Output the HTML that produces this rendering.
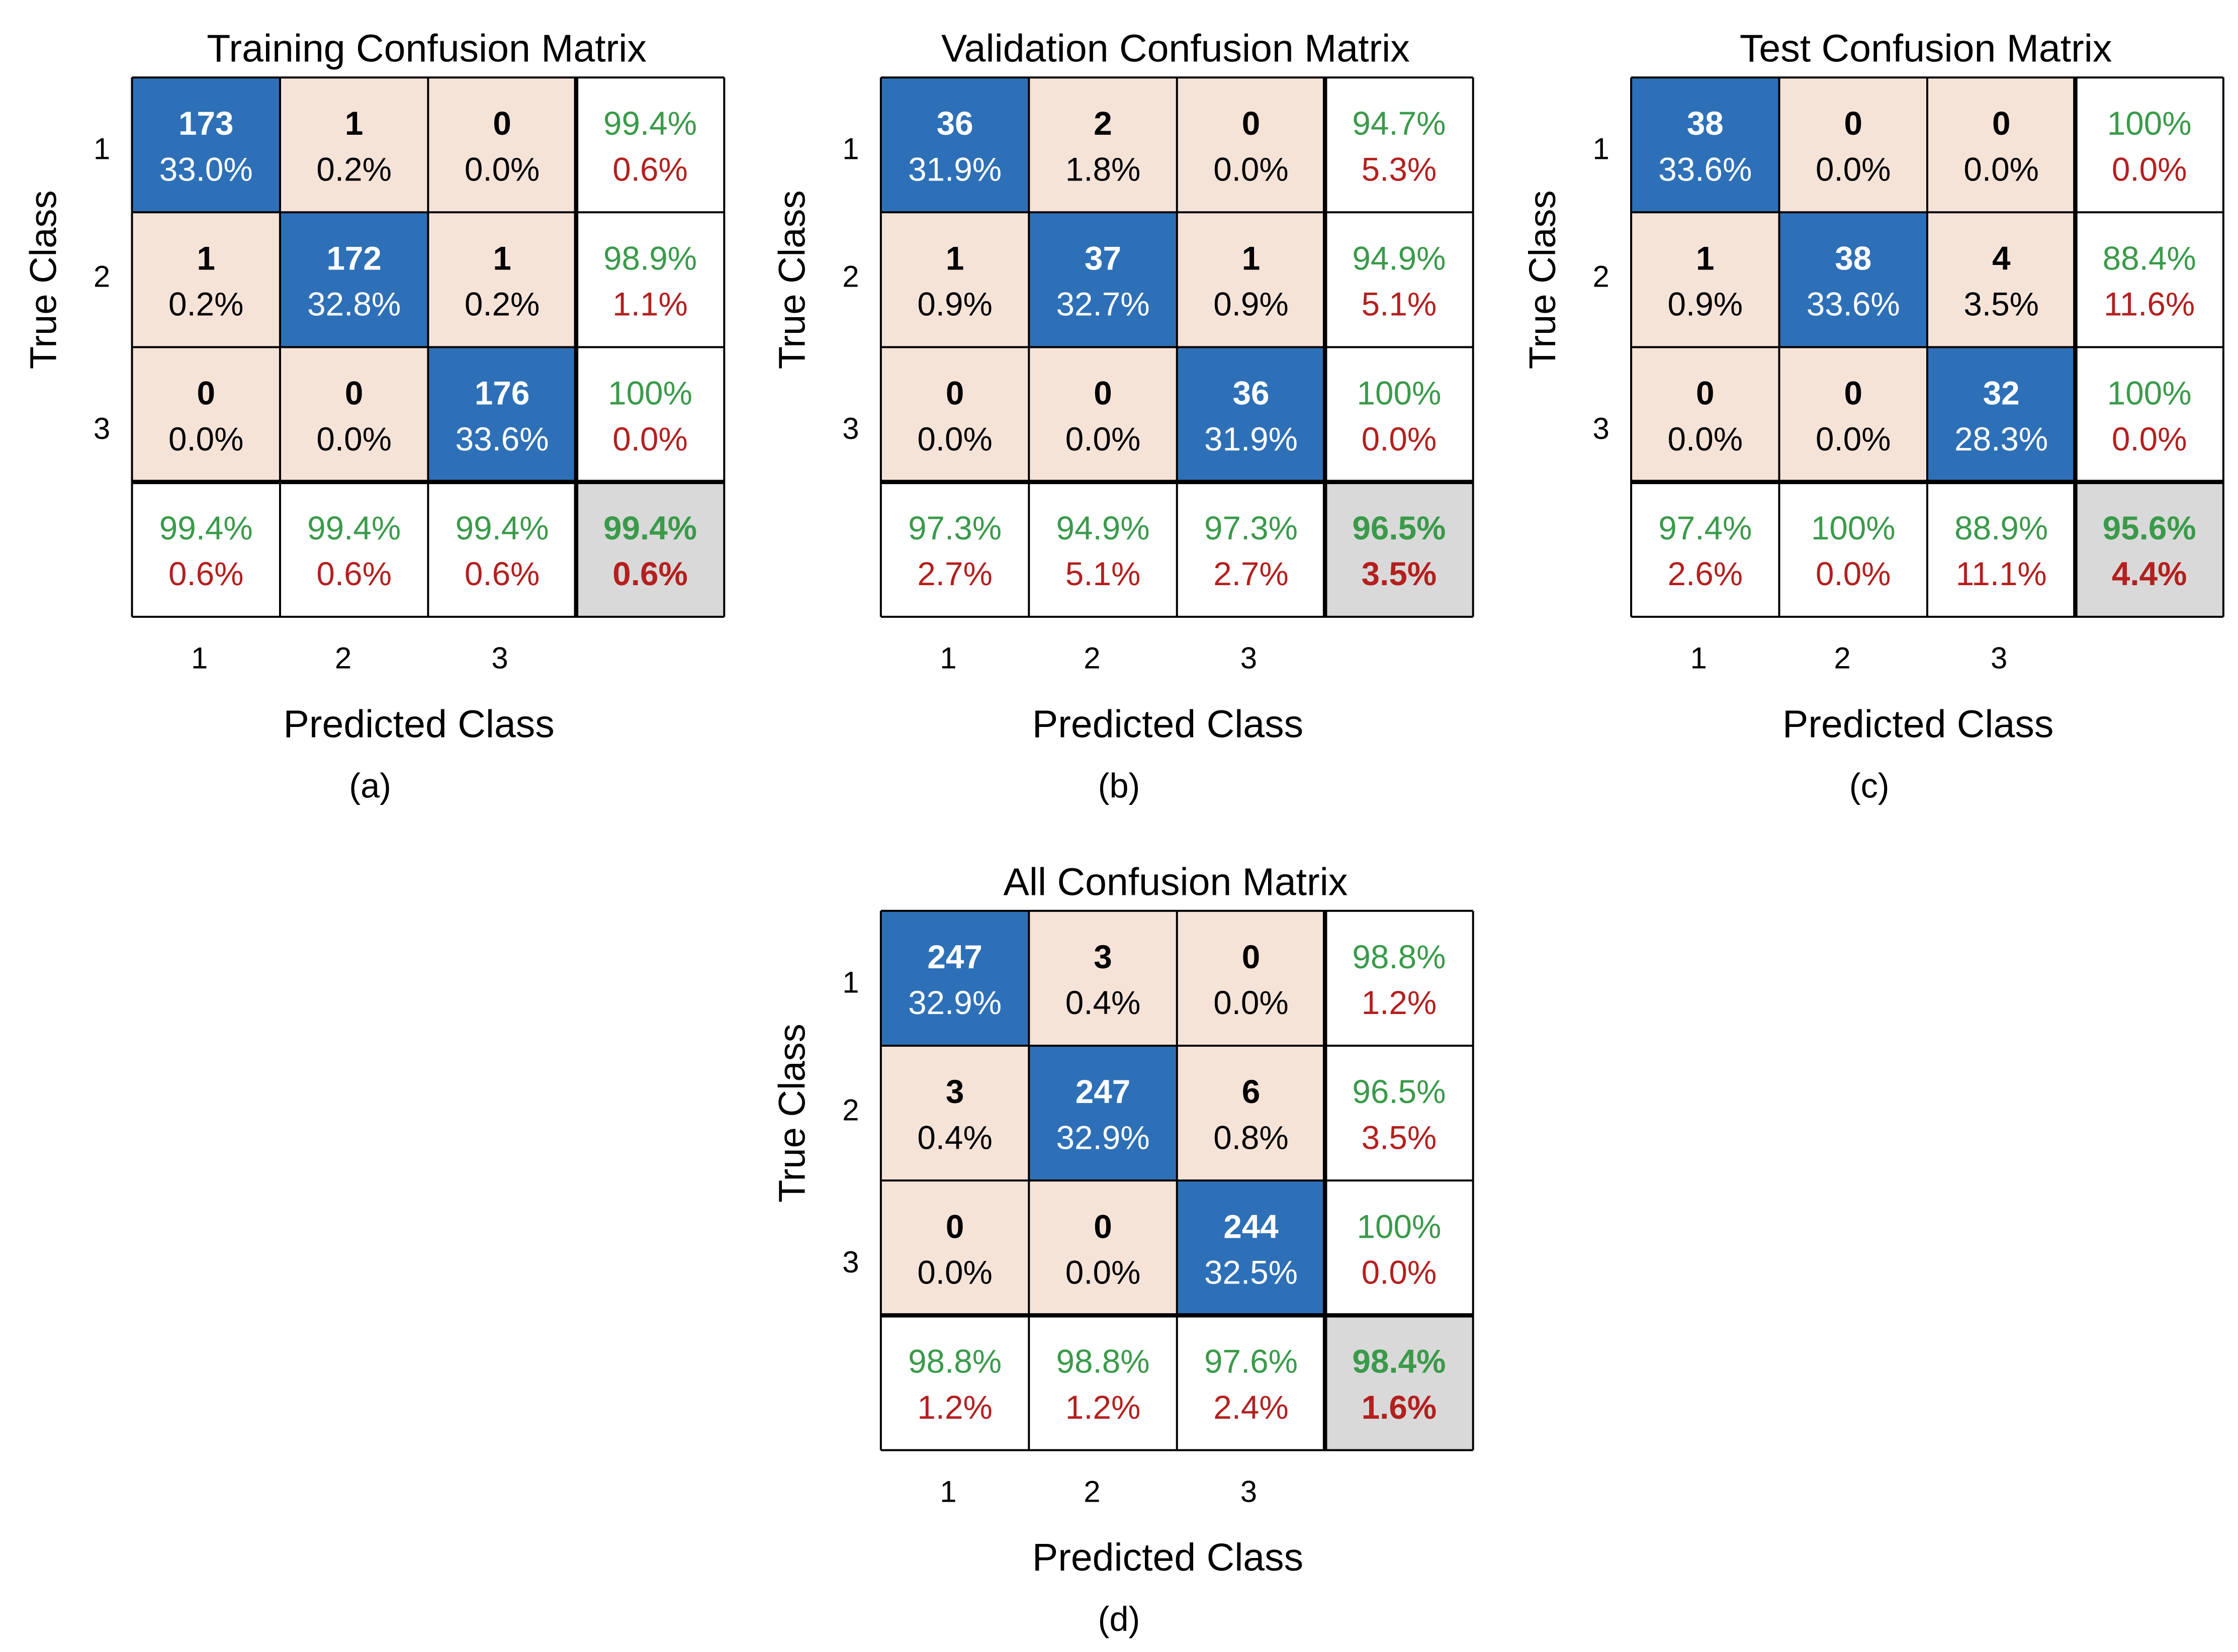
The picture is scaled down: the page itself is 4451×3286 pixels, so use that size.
<!DOCTYPE html>
<html><head><meta charset="utf-8"><style>
html,body{margin:0;padding:0;background:#fff;}
svg{display:block;}
text{font-family:"Liberation Sans",sans-serif;}
</style></head><body>
<svg id="fig" width="4451" height="3286" viewBox="0 0 1560 1151.7" xmlns="http://www.w3.org/2000/svg"></svg>
<script>
// Data arrays
const classLabels = ["1","2","3"];
const panelTitles = ["Training Confusion Matrix","Validation Confusion Matrix","Test Confusion Matrix","All Confusion Matrix"];
const panelCaptions = ["(a)","(b)","(c)","(d)"];
const trainCounts = [[173,1,0],[1,172,1],[0,0,176]];
const valCounts = [[36,2,0],[1,37,1],[0,0,36]];
const testCounts = [[38,0,0],[1,38,4],[0,0,32]];
const allCounts = [[247,3,0],[3,247,6],[0,0,244]];

const panels = [
  {counts: trainCounts, ox: 92, oy: 54, key: "training"},
  {counts: valCounts, ox: 614, oy: 54, key: "validation"},
  {counts: testCounts, ox: 1137, oy: 54, key: "test"},
  {counts: allCounts, ox: 614, oy: 635, key: "all"}
];

const NS = "http://www.w3.org/2000/svg";
const svg = document.getElementById("fig");
const CW = 103.2, CH = 94;
const BLUE = "#2e70b7", PINK = "#f6e3d8", GREEN = "#3a9a4a", RED = "#b3201f", GRAY = "#d9d9d9";
const FS = 23;

function mk(tag, attrs, parent){
  const e = document.createElementNS(NS, tag);
  for (const k in attrs) e.setAttribute(k, attrs[k]);
  (parent || svg).appendChild(e);
  return e;
}
function pct(v){
  if (!isFinite(v)) return "NaN%";
  const p = v*100;
  if (Math.abs(p-100) < 1e-9) return "100%";
  return p.toFixed(1) + "%";
}
function txt(g, x, y, s, fill, size, bold){
  const t = mk("text", {x:x, y:y, "text-anchor":"middle", "font-size":size, fill:fill, "font-weight": bold ? "bold" : "normal"}, g);
  t.textContent = s;
  return t;
}

panels.forEach((p, pi) => {
  const g = mk("g", {});
  
  
  const n = p.counts.length;
  let total = 0; p.counts.forEach(r => r.forEach(v => total += v));
  const xC = j => p.ox + j*CW;
  const yR = i => p.oy + i*CH;
  for (let i=0;i<n;i++){
    for (let j=0;j<n;j++){
      const v = p.counts[i][j];
      const diag = i===j;
      const r = mk("rect", {x:xC(j), y:yR(i), width:CW, height:CH, fill: diag?BLUE:PINK}, g);
      
      
      const col = diag ? "#fff" : "#000";
      txt(g, xC(j)+CW/2, yR(i)+CH/2-7, String(v), col, FS, true);
      txt(g, xC(j)+CW/2, yR(i)+CH/2+25, pct(v/total), col, FS, false);
    }
    let rs = 0; p.counts[i].forEach(v => rs += v);
    const c = p.counts[i][i]/rs;
    const r = mk("rect", {x:xC(n), y:yR(i), width:CW, height:CH, fill:"#fff"}, g);
    
    
    txt(g, xC(n)+CW/2, yR(i)+CH/2-7, pct(c), GREEN, FS, false);
    txt(g, xC(n)+CW/2, yR(i)+CH/2+25, pct(1-c), RED, FS, false);
  }
  for (let j=0;j<n;j++){
    let cs = 0; p.counts.forEach(r => cs += r[j]);
    const c = p.counts[j][j]/cs;
    const r = mk("rect", {x:xC(j), y:yR(n), width:CW, height:CH, fill:"#fff"}, g);
    
    
    txt(g, xC(j)+CW/2, yR(n)+CH/2-7, pct(c), GREEN, FS, false);
    txt(g, xC(j)+CW/2, yR(n)+CH/2+25, pct(1-c), RED, FS, false);
  }
  let tr = 0; for (let i=0;i<n;i++) tr += p.counts[i][i];
  const acc = tr/total;
  const ro = mk("rect", {x:xC(n), y:yR(n), width:CW, height:CH, fill:GRAY}, g);
  
  
  txt(g, xC(n)+CW/2, yR(n)+CH/2-7, pct(acc), GREEN, FS, true);
  txt(g, xC(n)+CW/2, yR(n)+CH/2+25, pct(1-acc), RED, FS, true);
  for (let k=0;k<=n+1;k++){
    const w = (k===n) ? 3 : 1.4;
    mk("line", {x1:xC(k), y1:yR(0), x2:xC(k), y2:yR(n+1), stroke:"#000", "stroke-width":w}, g);
    mk("line", {x1:xC(0), y1:yR(k), x2:xC(n+1), y2:yR(k), stroke:"#000", "stroke-width":w}, g);
  }
  const t = txt(g, xC(0)+(n+1)*CW/2 - 1, p.oy-11, panelTitles[pi], "#000", 27, false);
  
  
  const rowYOff = [49, 44, 56];
  for (let i=0;i<n;i++){
    const l = txt(g, p.ox-21, yR(i)+rowYOff[i]+8, classLabels[i], "#000", 21, false);
    
    
  }
  const colXOff = [47, 44, 50];
  for (let j=0;j<n;j++){
    const l = txt(g, xC(j)+colXOff[j], yR(n+1)+36, classLabels[j], "#000", 21, false);
    
    
  }
  const yt = mk("text", {x:0, y:0, "text-anchor":"middle", "font-size":26, fill:"#000", transform:"translate(" + (p.ox-53) + "," + (p.oy+141) + ") rotate(-90)"}, g);
  yt.textContent = "True Class";
  
  
  const xt = txt(g, xC(0)+200, yR(n+1)+84, "Predicted Class", "#000", 27, false);
  
  
  const cap = mk("text", {x:xC(0)+166, y:yR(n+1)+126, "text-anchor":"middle", "font-size":24, fill:"#000", "font-family":"Liberation Serif, serif"}, g);
  cap.textContent = panelCaptions[pi];
  
  
});
</script>
</body></html>
